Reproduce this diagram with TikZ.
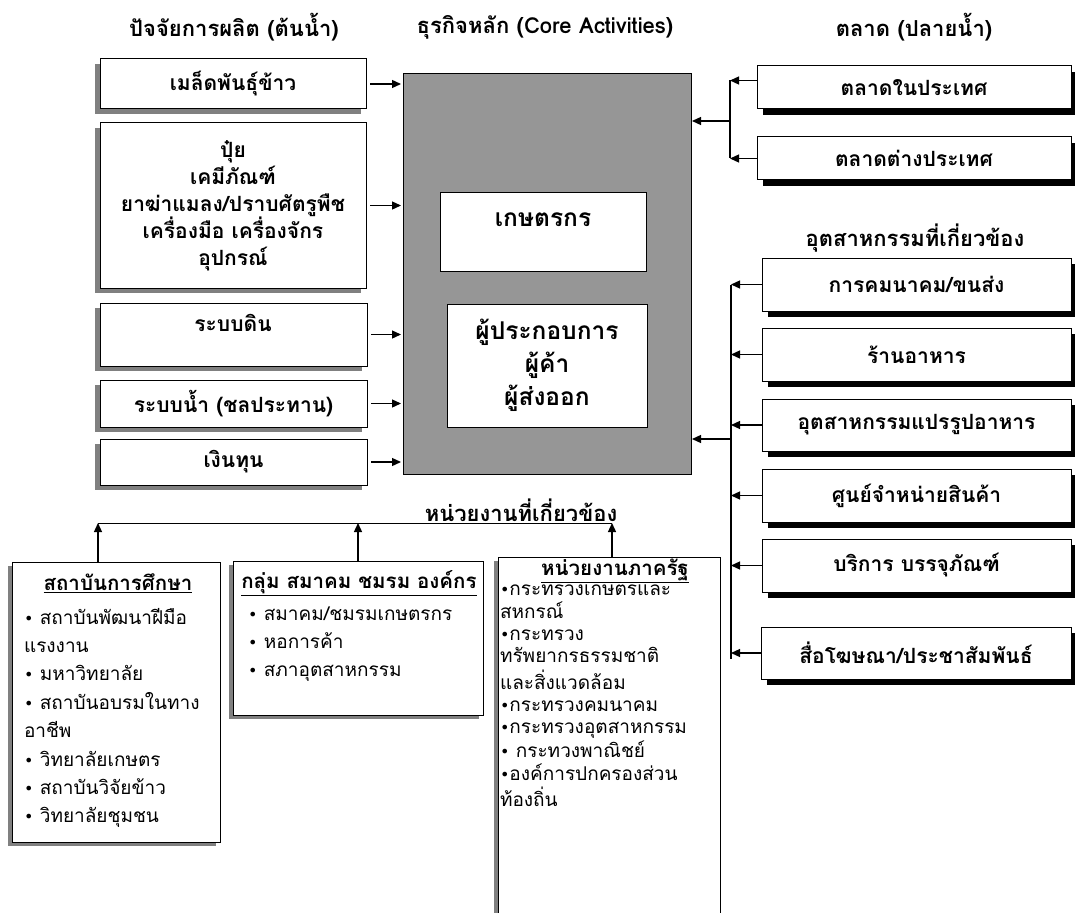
\documentclass[tikz,border=0pt]{standalone}
\usepackage{fontspec}
\setmainfont[Script=Thai]{Loma}
\newfontfamily\dvfont{DejaVu Sans}
\usetikzlibrary{arrows.meta,shadows,fit,calc}
\definecolor{coregray}{RGB}{150,150,150}
\definecolor{shgray}{RGB}{128,128,128}
\newcommand{\bul}{{\dvfont\fontsize{16}{16}\selectfont •}}
\newcommand{\listlines}[1]{\begin{tabular}[t]{@{}l@{}}#1\end{tabular}}
\begin{document}
\begin{tikzpicture}[x=1pt,y=-1pt,
  every node/.style={inner sep=0pt, outer sep=0pt},
  boxtext/.style={font=\bfseries\fontsize{21}{27}\selectfont, align=center},
  lbox/.style={draw, fill=white, line width=1pt,
    general shadow={fill=shgray, shadow xshift=-5pt, shadow yshift=-5pt}},
  rbox/.style={draw, fill=white, line width=1pt,
    general shadow={fill=black, shadow xshift=6pt, shadow yshift=-6pt}},
  bbox/.style={draw, fill=white, line width=0.8pt,
    general shadow={fill=shgray, shadow xshift=-4pt, shadow yshift=-4pt}},
  corebox/.style={draw, fill=coregray, line width=1pt},
  ibox/.style={draw, fill=white, line width=1pt},
  bigtext/.style={font=\bfseries\fontsize{24.5}{33}\selectfont, align=center},
  head/.style={font=\bfseries\fontsize{22}{26}\selectfont},
  title/.style={font=\bfseries\fontsize{20.5}{24}\selectfont},
  listtext/.style={font=\fontsize{19}{28.4}\selectfont, anchor=base west},
  ln/.style={line width=1.3pt},
  arr/.style={line width=1.3pt, -{Triangle[length=9pt,width=8pt]}}
]
\fill[white] (0,0) rectangle (1075,912);
\clip (0,0) rectangle (1075,912);

% headers
\node[head] (h1) at (234,27) {ปัจจัยการผลิต (ต้นน้ำ)};
\node[head] (h2) at (545,27) {ธุรกิจหลัก (Core Activities)};
\node[head] (h3) at (914,27) {ตลาด (ปลายน้ำ)};
\node[head] (h4) at (915,238) {อุตสาหกรรมที่เกี่ยวข้อง};
\node[head] (h5) at (521,510) {หน่วยงานที่เกี่ยวข้อง};

% left inputs
\node[lbox, fit={(100,59)(366,109)}] (b1) {};
\node[boxtext] (t1) at (b1.center) {เมล็ดพันธุ์ข้าว};
\node[lbox, fit={(100,123)(366,288)}] (b2) {};
\node[boxtext] (t2) at (b2.center) {ปุ๋ย\\เคมีภัณฑ์\\ยาฆ่าแมลง/ปราบศัตรูพืช\\เครื่องมือ เครื่องจักร\\อุปกรณ์};
\node[lbox, fit={(100,303)(367,366)}] (b3) {};
\node[boxtext] (t3) at (233,323) {ระบบดิน};
\node[lbox, fit={(100,380)(367,427)}] (b4) {};
\node[boxtext] (t4) at (b4.center) {ระบบน้ำ (ชลประทาน)};
\node[lbox, fit={(100,439)(367,485)}] (b5) {};
\node[boxtext] (t5) at (b5.center) {เงินทุน};

% core
\node[corebox, fit={(403,74)(691,474)}] (core) {};
\node[ibox, fit={(440,192)(646,271)}] (k1) {};
\node[bigtext] (kt1) at (543,220) {เกษตรกร};
\node[ibox, fit={(447,304)(647,427)}] (k2) {};
\node[bigtext] (kt2) at (k2.center) {ผู้ประกอบการ\\ผู้ค้า\\ผู้ส่งออก};

% markets
\node[rbox, fit={(757,66)(1071,109)}] (m1) {};
\node[boxtext] (mt1) at (m1.center) {ตลาดในประเทศ};
\node[rbox, fit={(757,137)(1071,180)}] (m2) {};
\node[boxtext] (mt2) at (m2.center) {ตลาดต่างประเทศ};

% industries
\node[rbox, fit={(762,258)(1071,311)}] (i1) {};
\node[boxtext] (it1) at (i1.center) {การคมนาคม/ขนส่ง};
\node[rbox, fit={(762,328)(1071,381)}] (i2) {};
\node[boxtext] (it2) at (i2.center) {ร้านอาหาร};
\node[rbox, fit={(762,399)(1071,451)}] (i3) {};
\node[boxtext] (it3) at (i3.center) {อุตสาหกรรมแปรรูปอาหาร};
\node[rbox, fit={(762,469)(1071,522)}] (i4) {};
\node[boxtext] (it4) at (i4.center) {ศูนย์จำหน่ายสินค้า};
\node[rbox, fit={(762,539)(1071,592)}] (i5) {};
\node[boxtext] (it5) at (i5.center) {บริการ บรรจุภัณฑ์};
\node[rbox, fit={(761,627)(1071,679)}] (i6) {};
\node[boxtext] (it6) at (i6.center) {สื่อโฆษณา/ประชาสัมพันธ์};

% bottom boxes
\node[bbox, fit={(12,562)(220,842)}] (edu) {};
\node[title] (edut) at (118,583) {\underline{สถาบันการศึกษา}};
\node[listtext] (edul) at (24,624) {\listlines{\bul\ สถาบันพัฒนาฝีมือ\\แรงงาน\\\bul\ มหาวิทยาลัย\\\bul\ สถาบันอบรมในทาง\\อาชีพ\\\bul\ วิทยาลัยเกษตร\\\bul\ สถาบันวิจัยข้าว\\\bul\ วิทยาลัยชุมชน}};

\node[bbox, fit={(233,561)(483,715)}] (grp) {};
\node[title] (grpt) at (359,583) {\underline{กลุ่ม สมาคม ชมรม องค์กร}};
\node[listtext] (grpl) at (248,620) {\listlines{\bul\ สมาคม/ชมรมเกษตรกร\\\bul\ หอการค้า\\\bul\ สภาอุตสาหกรรม}};

\node[bbox, fit={(498,557)(720,940)}] (gov) {};
\node[title] (govt) at (615,571) {\underline{หน่วยงานภาครัฐ}};
\node[listtext, font=\fontsize{19}{22.3}\selectfont] (govl) at (500,595) {\listlines{\bul กระทรวงเกษตรและ\\สหกรณ์\\\bul กระทรวง\\ทรัพยากรธรรมชาติ\\และสิ่งแวดล้อม\\\bul กระทรวงคมนาคม\\\bul กระทรวงอุตสาหกรรม\\\bul\ กระทวงพาณิชย์\\\bul องค์การปกครองส่วน\\ท้องถิ่น}};

% left arrows
\foreach \b in {b1,b2,b3,b4,b5}
  \draw[arr, shorten <=4pt, shorten >=2pt] (\b.east) -- (\b.east -| core.west);

% market connectors
\coordinate (mj) at (730,121);
\draw[ln] ([yshift=7pt]m1.west -| mj) -- (m2.west -| mj);
\draw[arr] ([yshift=7pt]m1.west) -- ([yshift=7pt]m1.west -| mj);
\draw[arr] (m2.west) -- (m2.west -| mj);
\draw[arr, shorten >=1pt] (mj) -- (mj -| core.east);

% industry connectors
\coordinate (ij) at (731,439);
\draw[ln] (ij |- i1.west) -- (ij |- i6.west) -- ++(0,6);
\foreach \n in {i1,i2,i3,i4,i5,i6}
  \draw[arr] (\n.west) -- (\n.west -| ij);
\draw[arr, shorten >=1pt] (ij) -- (ij -| core.east);

% bottom connectors
\coordinate (hb) at (98,523);
\coordinate (hbr) at (612,523);
\draw[line width=1pt] (hb) -- (hbr);
\draw[arr] ([xshift=-18pt]edu.north) -- ([xshift=-18pt]edu.north |- hb);
\draw[arr] (grp.north) -- (grp.north |- hb);
\draw[arr] ([xshift=3pt]gov.north) -- ([xshift=3pt]gov.north |- hbr);
\end{tikzpicture}
\end{document}
